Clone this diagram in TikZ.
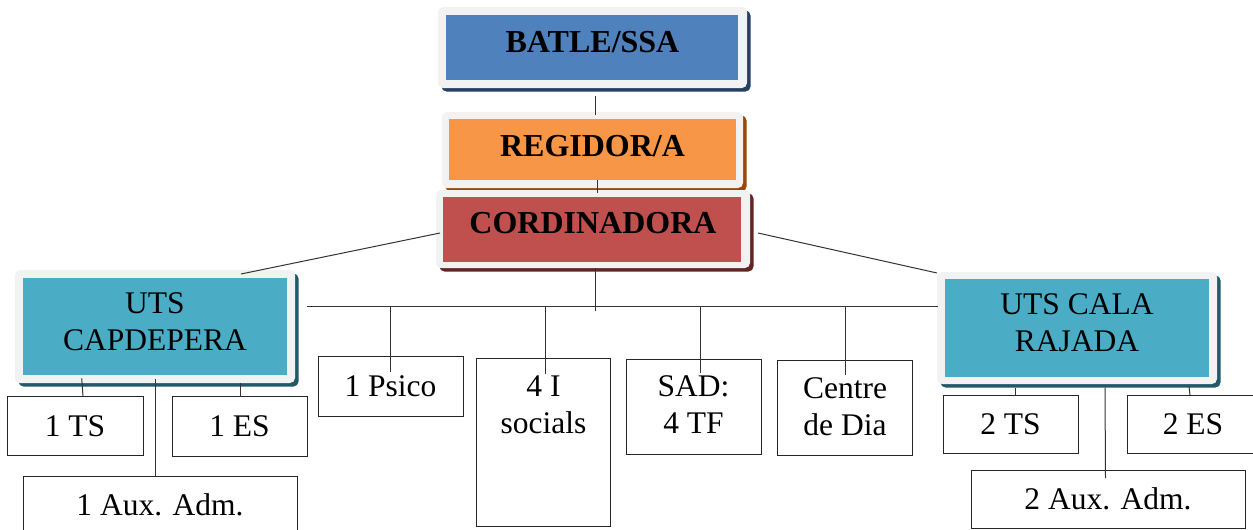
\documentclass[tikz,border=0pt]{standalone}
\usepackage{fontspec}
\setmainfont{Liberation Serif}
\usetikzlibrary{fit}
\definecolor{framegray}{HTML}{F2F2F2}
\definecolor{bblue}{HTML}{4F81BD}
\definecolor{bblueS}{HTML}{243F60}
\definecolor{borange}{HTML}{F79646}
\definecolor{borangeS}{HTML}{984807}
\definecolor{bred}{HTML}{C0504D}
\definecolor{bredS}{HTML}{632523}
\definecolor{bteal}{HTML}{4BACC6}
\definecolor{btealS}{HTML}{215968}
\newcommand\FrameBox[7]{%
  \fill[#7, rounded corners=5pt, shift={(3.5,3.5)}] #2 rectangle #3;
  \fill[framegray, rounded corners=5pt] #2 rectangle #3;
  \node[fit={#4 #5}, inner sep=0pt, fill=#6] (#1) {};
}
\begin{document}
\begin{tikzpicture}[x=1pt, y=-1pt,
  conn/.style={draw=black!80, line width=1pt},
  leaf/.style={draw=black!85, line width=1pt, fill=white, inner sep=0pt,
    font=\fontsize{31.5}{37}\selectfont, text height=21pt, text depth=0pt},
  mtxt/.style={anchor=base, inner sep=0pt, font=\fontsize{31.5}{37}\selectfont},
  btxt/.style={anchor=base, inner sep=0pt, font=\bfseries\fontsize{32}{37}\selectfont}]
\useasboundingbox (0,0) rectangle (1253,530);
\setlength\tabcolsep{0pt}

% top boxes
\FrameBox{batle}{(438,7)}{(747,88)}{(446,15)}{(738,80)}{bblue}{bblueS}
\node[btxt] (t-batle) at (592.5,52) {BATLE/SSA};
\FrameBox{regidor}{(442,112)}{(743,188)}{(449,119)}{(736,180)}{borange}{borangeS}
\node[btxt] (t-regidor) at (592.5,156) {REGIDOR/A};
\FrameBox{cord}{(436,190)}{(750,268)}{(443,197)}{(741,262)}{bred}{bredS}
\node[btxt] (t-cord) at (593,233) {CORDINADORA};

% UTS boxes
\FrameBox{uts1}{(15,270)}{(295,383)}{(23,278)}{(287,375)}{bteal}{btealS}
\node[mtxt] (t-uts1) at (155,313.3) {\begin{tabular}[t]{c}UTS\\CAPDEPERA\end{tabular}};
\FrameBox{uts2}{(937,272)}{(1217,384)}{(945,279)}{(1209,377)}{bteal}{btealS}
\node[mtxt] (t-uts2) at (1077,314) {\begin{tabular}[t]{c}UTS CALA\\RAJADA\end{tabular}};

% leaf boxes
\node[leaf, minimum width=136, minimum height=59] (ts1) at (75,425.5) {1 TS};
\node[leaf, minimum width=135, minimum height=60] (es1) at (239.5,426) {1 ES};
\node[leaf, minimum width=274, minimum height=57] (aux1) at (160,504.5) {1 Aux. Adm.};
\node[leaf, minimum width=145, minimum height=60] (psico) at (390.5,386) {1 Psico};
\node[leaf, minimum width=134, minimum height=168] (isoc) at (543,442) {};
\node[mtxt] (t-isoc) at (543.5,396.7) {\begin{tabular}[t]{c}4 I\\socials\end{tabular}};
\node[leaf, minimum width=135, minimum height=95] (sad) at (693.5,406.5) {};
\node[mtxt] (t-sad) at (693.5,396) {\begin{tabular}[t]{c}SAD:\\4 TF\end{tabular}};
\node[leaf, minimum width=135, minimum height=95] (centre) at (844.5,407.5) {};
\node[mtxt] (t-centre) at (845,398) {\begin{tabular}[t]{c}Centre\\de Dia\end{tabular}};
\node[leaf, minimum width=135, minimum height=58] (ts2) at (1010.5,424) {2 TS};
\node[leaf, minimum width=132, minimum height=58] (es2) at (1193,424) {2 ES};
\node[leaf, minimum width=274, minimum height=58] (aux2) at (1108,499) {2 Aux. Adm.};

% connector end points
\coordinate (b-out) at (595,96);
\coordinate (r-in) at (595,115);
\coordinate (r-out) at (597,180);
\coordinate (c-in) at (597,193);
\coordinate (c-out) at (595,268);
\coordinate (c-end) at (595,311);
\coordinate (c-left) at (440,233);
\coordinate (c-right) at (758,233);
\coordinate (u1-in) at (241,274);
\coordinate (u2-in) at (937,273);
\coordinate (bar-l) at (307,306.5);
\coordinate (bar-r) at (938,306.5);
\coordinate (bar-psico) at (390.7,306.5);
\coordinate (bar-isoc) at (545,306.5);
\coordinate (bar-sad) at (700.7,306.5);
\coordinate (bar-centre) at (845,306.5);
\coordinate (psico-in) at (390.7,372);
\coordinate (isoc-in) at (545,374);
\coordinate (sad-in) at (700.7,373);
\coordinate (centre-in) at (845,375);
\coordinate (u1-ts) at (81.7,378.3);
\coordinate (ts1-in) at (83,396);
\coordinate (u1-es) at (240.7,383);
\coordinate (es1-in) at (240.7,396);
\coordinate (u1-aux) at (155,379);
\coordinate (aux1-in) at (155,476);
\coordinate (u2-ts) at (1015,388);
\coordinate (ts2-in) at (1015,395);
\coordinate (u2-es) at (1189,386.7);
\coordinate (es2-in) at (1190,395);
\coordinate (u2-aux) at (1105,387.7);
\coordinate (aux2-in) at (1105.5,478);

% connectors
\draw[conn] (b-out) -- (r-in);
\draw[conn] (r-out) -- (c-in);
\draw[conn] (c-out) -- (c-end);
\draw[conn] (c-left) -- (u1-in);
\draw[conn] (c-right) -- (u2-in);
\draw[conn] (bar-l) -- (bar-r);
\draw[conn] (bar-psico) -- (psico-in);
\draw[conn] (bar-isoc) -- (isoc-in);
\draw[conn] (bar-sad) -- (sad-in);
\draw[conn] (bar-centre) -- (centre-in);
\draw[conn] (u1-ts) -- (ts1-in);
\draw[conn] (u1-es) -- (es1-in);
\draw[conn] (u1-aux) -- (aux1-in);
\draw[conn] (u2-ts) -- (ts2-in);
\draw[conn] (u2-es) -- (es2-in);
\draw[conn] (u2-aux) -- (aux2-in);
\end{tikzpicture}
\end{document}
